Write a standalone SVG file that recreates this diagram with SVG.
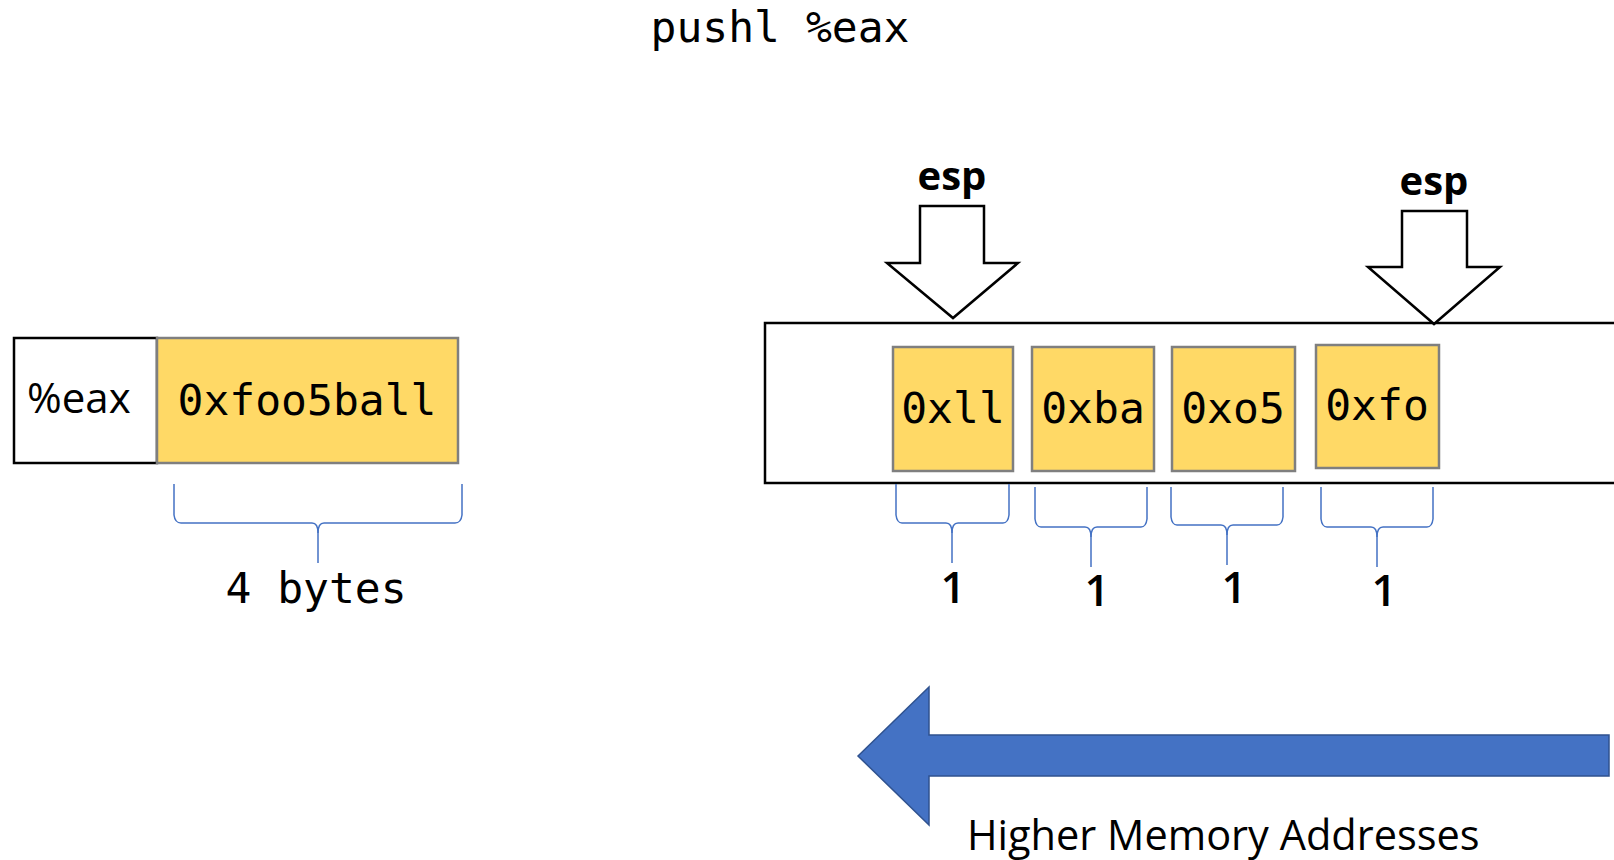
<svg xmlns="http://www.w3.org/2000/svg" width="1614" height="860" viewBox="0 0 1614 860">
  <style>
    .mono { font-family: "DejaVu Sans Mono", "Liberation Mono", monospace; font-size: 43px; fill: #000; }
    .sans { font-family: "Open Sans", "Noto Sans", sans-serif; fill: #000; }
    .count { font-size: 44px; font-weight: 600; }
    .byte { fill: #FFD966; stroke: #7F7F7F; stroke-width: 2.5; }
    .frame { fill: #FFFFFF; stroke: #000; stroke-width: 2.5; }
    .brace { fill: none; stroke: #4472C4; stroke-width: 1.5; }
    .ptr { fill: #FFFFFF; stroke: #000; stroke-width: 2.5; stroke-linejoin: miter; }
  </style>

  <!-- instruction title -->
  <text class="mono" x="780" y="42" text-anchor="middle" font-size="44">pushl %eax</text>

  <!-- register %eax -->
  <g id="register">
    <rect class="frame" x="14" y="338" width="143" height="125"/>
    <rect class="byte" x="157" y="338" width="301" height="125"/>
    <text class="sans" x="27" y="413" font-size="42">%eax</text>
    <text class="mono" x="307" y="415" text-anchor="middle">0xfoo5ball</text>
  </g>

  <!-- register size brace -->
  <g id="register-size">
    <path class="brace" d="M174 484 L174 515 Q175 523 181 523 L312 523 Q318 523 318 533 L318 563"/>
    <path class="brace" d="M462 484 L462 515 Q461 523 455 523 L324 523 Q318 523 318 533"/>
    <text class="mono" x="316" y="603" text-anchor="middle" font-size="44">4 bytes</text>
  </g>

  <!-- stack memory -->
  <g id="stack">
    <rect class="frame" x="765" y="323" width="870" height="160"/>
  </g>

  <g id="byte-0x11">
    <rect class="byte" x="893" y="347" width="120" height="124"/>
    <text class="mono" x="953" y="423" text-anchor="middle">0xll</text>
  </g>
  <g id="byte-0xba">
    <rect class="byte" x="1032" y="347" width="122" height="124"/>
    <text class="mono" x="1093" y="423" text-anchor="middle">0xba</text>
  </g>
  <g id="byte-0x05">
    <rect class="byte" x="1172" y="347" width="123" height="124"/>
    <text class="mono" x="1233" y="423" text-anchor="middle">0xo5</text>
  </g>
  <g id="byte-0xf0">
    <rect class="byte" x="1316" y="345" width="123" height="123"/>
    <text class="mono" x="1377" y="420" text-anchor="middle">0xfo</text>
  </g>

  <!-- byte size braces -->
  <g id="byte-sizes">
    <path class="brace" d="M896 484 L896 515 Q897 523 902 523 L946 523 Q952 523 952 533 L952 563"/>
    <path class="brace" d="M1009 484 L1009 515 Q1008 523 1003 523 L958 523 Q952 523 952 533"/>
    <text class="sans count" x="953" y="603" text-anchor="middle">1</text>

    <path class="brace" d="M1035 487 L1035 519 Q1036 527 1041 527 L1085 527 Q1091 527 1091 537 L1091 567"/>
    <path class="brace" d="M1147 487 L1147 519 Q1146 527 1141 527 L1097 527 Q1091 527 1091 537"/>
    <text class="sans count" x="1097" y="606" text-anchor="middle">1</text>

    <path class="brace" d="M1171 487 L1171 517 Q1172 525 1177 525 L1221 525 Q1227 525 1227 535 L1227 565"/>
    <path class="brace" d="M1283 487 L1283 517 Q1282 525 1277 525 L1233 525 Q1227 525 1227 535"/>
    <text class="sans count" x="1234" y="603" text-anchor="middle">1</text>

    <path class="brace" d="M1321 487 L1321 519 Q1322 527 1327 527 L1371 527 Q1377 527 1377 537 L1377 567"/>
    <path class="brace" d="M1433 487 L1433 519 Q1432 527 1427 527 L1383 527 Q1377 527 1377 537"/>
    <text class="sans count" x="1384" y="606" text-anchor="middle">1</text>
  </g>

  <!-- stack pointer markers -->
  <g id="esp-new">
    <text class="sans" x="952" y="190" text-anchor="middle" font-size="40" font-weight="bold">esp</text>
    <path class="ptr" d="M920 206 L984 206 L984 263 L1018 263 L953 318 L887 263 L920 263 Z"/>
  </g>
  <g id="esp-old">
    <text class="sans" x="1434" y="195" text-anchor="middle" font-size="40" font-weight="bold">esp</text>
    <path class="ptr" d="M1402 211 L1467 211 L1467 267 L1500 267 L1434 324 L1368 267 L1402 267 Z"/>
  </g>

  <!-- address direction -->
  <g id="direction">
    <path d="M858 756 L929 687 L929 735 L1609 735 L1609 776 L929 776 L929 825 Z" fill="#4472C4" stroke="#2F528F" stroke-width="1.5"/>
    <text class="sans" x="967" y="850" font-size="41.5">Higher Memory Addresses</text>
  </g>
</svg>
